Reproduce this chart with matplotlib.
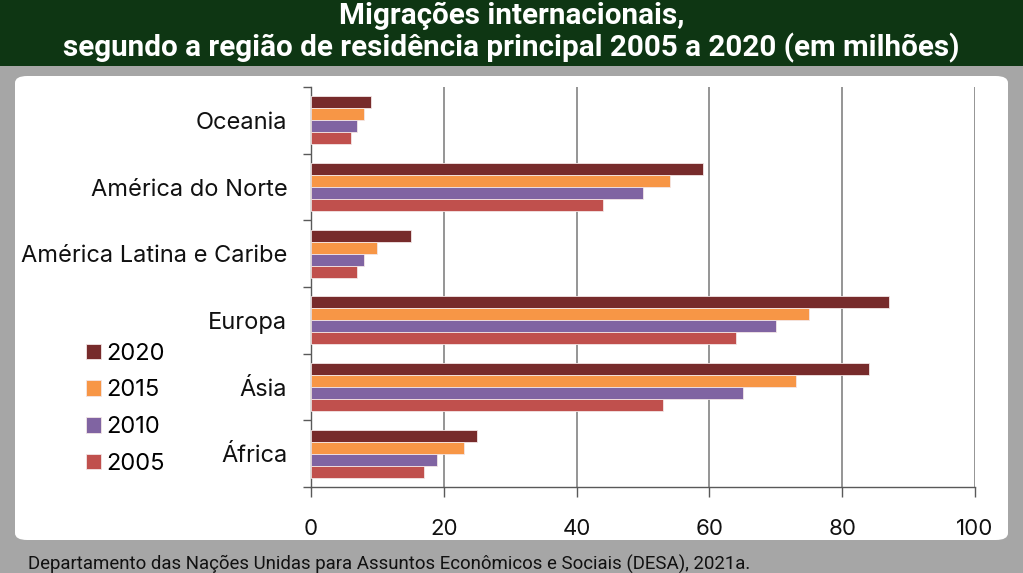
import matplotlib.pyplot as plt
from matplotlib.patches import FancyBboxPatch, Rectangle, Patch
import numpy as np

# dados (milhões de migrantes)
regioes = ["África", "Ásia", "Europa", "América Latina e Caribe",
           "América do Norte", "Oceania"]
anos = ["2020", "2015", "2010", "2005"]
v2020 = [25, 84, 87, 15, 59, 9]
v2015 = [23, 73, 75, 10, 54, 8]
v2010 = [19, 65, 70, 8, 50, 7]
v2005 = [17, 53, 64, 7, 44, 6]
x_ticks = [0, 20, 40, 60, 80, 100]

cores = ["#772b2b", "#f79646", "#8064a2", "#c0504d"]
serie = [v2020, v2015, v2010, v2005]

W, H = 1023, 573
fig = plt.figure(figsize=(W / 100, H / 100), dpi=100)
fig.patch.set_facecolor("#a6a6a6")

# faixa verde do título
fig.add_artist(Rectangle((0, 1 - 66 / H), 1, 66 / H, transform=fig.transFigure,
                         facecolor="#0e3613", edgecolor="none", zorder=0))
# painel branco
fig.add_artist(FancyBboxPatch((15 / W, 1 - 540 / H), (1008 - 15) / W, (540 - 76) / H,
                              boxstyle="round,pad=0,rounding_size=0.012",
                              transform=fig.transFigure, facecolor="white",
                              edgecolor="none", zorder=0))

titulo_font = ["Roboto", "DejaVu Sans"]
fig.text(0.5, 1 - 16 / H, "Migrações internacionais,", ha="center", va="center",
         color="white", fontsize=21.3, fontweight="bold", family=titulo_font)
fig.text(0.5, 1 - 48 / H,
         "segundo a região de residência principal 2005 a 2020 (em milhões)",
         ha="center", va="center", color="white", fontsize=21.3,
         fontweight="bold", family=titulo_font)
fig.text(28 / W, 1 - 564 / H,
         "Departamento das Nações Unidas para Assuntos Econômicos e Sociais (DESA), 2021a.",
         ha="left", va="center", color="#111111", fontsize=13.4, family=titulo_font)

ax = fig.add_axes([311 / W, 1 - 487 / H, (975 - 311) / W, (487 - 87) / H])
ax.set_facecolor("none")

y = np.arange(len(regioes)) + 0.5
h = 0.18
offs = [1.5 * h, 0.5 * h, -0.5 * h, -1.5 * h]
for vals, cor, off, ano in zip(serie, cores, offs, anos):
    ax.barh(y + off, vals, height=h, color=cor, edgecolor="#f3e6e6",
            linewidth=0.6, zorder=3, label=ano)

ax.set_xlim(0, 100)
ax.set_ylim(0, len(regioes))
ax.set_xticks(x_ticks)
ax.set_xticklabels([str(t) for t in x_ticks])
ax.grid(axis="x", color="#8c8c8c", linewidth=1.3, zorder=0)
ax.set_yticks(np.arange(len(regioes) + 1))
ax.set_yticklabels([])
ax.set_yticks(y, minor=True)
ax.set_yticklabels(regioes, minor=True)
ax.tick_params(axis="y", which="minor", length=0, pad=17, labelsize=17)
ax.tick_params(axis="y", which="major", length=6, color="#595959", width=1)
ax.tick_params(axis="x", length=7, color="#595959", width=1, pad=16, labelsize=16)
for lab in ax.get_yticklabels(minor=True) + ax.get_xticklabels():
    lab.set_family(["Inter", "DejaVu Sans"])
    lab.set_color("#111111")
for s in ["top", "right"]:
    ax.spines[s].set_visible(False)
ax.spines["left"].set_color("#595959")
ax.spines["bottom"].set_color("#595959")
ax.spines["left"].set_linewidth(1)
ax.spines["bottom"].set_linewidth(1)

handles = [Patch(facecolor=c, edgecolor="#f3e6e6", linewidth=0.6) for c in cores]
fig.legend(handles, anos, loc="upper left", bbox_to_anchor=(74 / W, 1 - 331 / H),
           frameon=False, handlelength=0.65, handleheight=0.65,
           handletextpad=0.22, labelspacing=0.62, borderpad=0,
           prop={"family": ["Inter", "DejaVu Sans"], "size": 17})

fig.savefig("out.png", dpi=100, facecolor=fig.get_facecolor())
